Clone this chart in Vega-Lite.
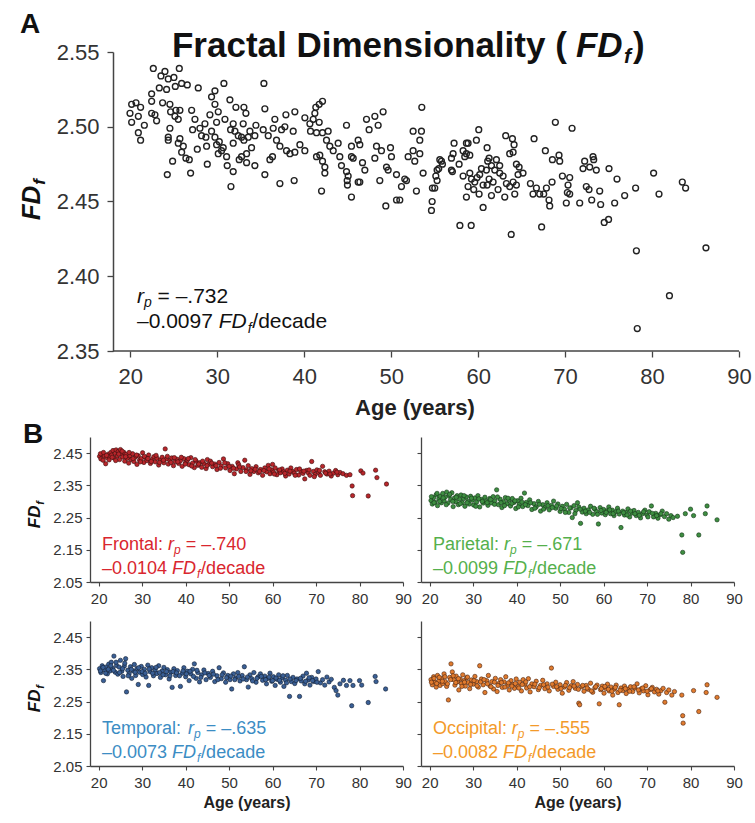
{
"$schema":"https://vega.github.io/schema/vega-lite/v6.json",
"padding":{"left":19,"top":11,"right":5,"bottom":5},
"config":{"view":{"stroke":null},"font":"Liberation Sans"},
"datasets":{
"a":[{"age":22.64,"fd":2.539},{"age":23.98,"fd":2.537},{"age":25.63,"fd":2.539},{"age":23.52,"fd":2.534},{"age":24.36,"fd":2.532},{"age":25.01,"fd":2.533},{"age":25.9,"fd":2.529},{"age":26.55,"fd":2.528},{"age":23.33,"fd":2.526},{"age":24.17,"fd":2.525},{"age":25.17,"fd":2.527},{"age":27.81,"fd":2.526},{"age":22.45,"fd":2.522},{"age":30.76,"fd":2.529},{"age":35.36,"fd":2.529},{"age":29.73,"fd":2.524},{"age":29.34,"fd":2.52},{"age":20.15,"fd":2.515},{"age":20.65,"fd":2.516},{"age":21.18,"fd":2.513},{"age":19.96,"fd":2.509},{"age":20.92,"fd":2.507},{"age":20.15,"fd":2.503},{"age":21.61,"fd":2.501},{"age":20.92,"fd":2.496},{"age":21.18,"fd":2.491},{"age":22.45,"fd":2.517},{"age":23.71,"fd":2.516},{"age":24.55,"fd":2.515},{"age":25.24,"fd":2.511},{"age":25.7,"fd":2.511},{"age":22.45,"fd":2.509},{"age":22.83,"fd":2.508},{"age":23.02,"fd":2.504},{"age":24.63,"fd":2.51},{"age":25.13,"fd":2.507},{"age":25.51,"fd":2.505},{"age":24.55,"fd":2.499},{"age":24.36,"fd":2.493},{"age":24.36,"fd":2.491},{"age":25.7,"fd":2.492},{"age":25.51,"fd":2.489},{"age":26.09,"fd":2.487},{"age":25.9,"fd":2.483},{"age":26.39,"fd":2.479},{"age":26.78,"fd":2.478},{"age":24.86,"fd":2.477},{"age":24.25,"fd":2.468},{"age":26.93,"fd":2.469},{"age":27.05,"fd":2.511},{"age":27.43,"fd":2.505},{"age":27.16,"fd":2.498},{"age":27.7,"fd":2.485},{"age":28.0,"fd":2.499},{"age":28.58,"fd":2.502},{"age":28.19,"fd":2.494},{"age":28.69,"fd":2.493},{"age":28.77,"fd":2.487},{"age":28.85,"fd":2.475},{"age":29.15,"fd":2.508},{"age":29.73,"fd":2.515},{"age":30.11,"fd":2.51},{"age":29.34,"fd":2.497},{"age":29.73,"fd":2.493},{"age":29.92,"fd":2.488},{"age":30.23,"fd":2.49},{"age":30.49,"fd":2.484},{"age":30.11,"fd":2.482},{"age":30.68,"fd":2.486},{"age":31.07,"fd":2.48},{"age":31.45,"fd":2.518},{"age":32.14,"fd":2.513},{"age":33.06,"fd":2.513},{"age":33.29,"fd":2.509},{"age":29.92,"fd":2.503},{"age":30.88,"fd":2.505},{"age":31.83,"fd":2.502},{"age":31.53,"fd":2.498},{"age":32.03,"fd":2.497},{"age":32.41,"fd":2.494},{"age":31.83,"fd":2.489},{"age":32.79,"fd":2.493},{"age":33.06,"fd":2.491},{"age":33.56,"fd":2.493},{"age":32.98,"fd":2.502},{"age":34.44,"fd":2.501},{"age":33.75,"fd":2.497},{"age":34.32,"fd":2.494},{"age":33.94,"fd":2.486},{"age":33.37,"fd":2.482},{"age":32.79,"fd":2.48},{"age":32.52,"fd":2.478},{"age":33.37,"fd":2.476},{"age":34.32,"fd":2.474},{"age":31.14,"fd":2.474},{"age":31.83,"fd":2.47},{"age":31.57,"fd":2.46},{"age":35.47,"fd":2.512},{"age":36.62,"fd":2.505},{"age":35.28,"fd":2.498},{"age":35.86,"fd":2.494},{"age":36.43,"fd":2.499},{"age":36.81,"fd":2.491},{"age":37.39,"fd":2.498},{"age":37.77,"fd":2.5},{"age":37.2,"fd":2.487},{"age":37.89,"fd":2.508},{"age":38.92,"fd":2.51},{"age":38.73,"fd":2.497},{"age":36.05,"fd":2.478},{"age":36.35,"fd":2.48},{"age":35.47,"fd":2.468},{"age":37.2,"fd":2.462},{"age":38.84,"fd":2.464},{"age":37.96,"fd":2.484},{"age":38.35,"fd":2.482},{"age":38.92,"fd":2.483},{"age":39.5,"fd":2.488},{"age":40.07,"fd":2.506},{"age":40.07,"fd":2.484},{"age":40.65,"fd":2.502},{"age":41.03,"fd":2.505},{"age":41.33,"fd":2.513},{"age":41.72,"fd":2.515},{"age":42.1,"fd":2.517},{"age":41.22,"fd":2.509},{"age":41.72,"fd":2.503},{"age":40.72,"fd":2.497},{"age":41.41,"fd":2.496},{"age":42.1,"fd":2.496},{"age":42.75,"fd":2.497},{"age":42.56,"fd":2.491},{"age":42.94,"fd":2.487},{"age":43.33,"fd":2.484},{"age":41.79,"fd":2.481},{"age":41.41,"fd":2.48},{"age":42.1,"fd":2.477},{"age":42.37,"fd":2.473},{"age":42.37,"fd":2.469},{"age":41.99,"fd":2.457},{"age":43.9,"fd":2.489},{"age":44.86,"fd":2.501},{"age":44.09,"fd":2.48},{"age":44.28,"fd":2.474},{"age":44.86,"fd":2.47},{"age":45.05,"fd":2.467},{"age":44.94,"fd":2.464},{"age":44.97,"fd":2.461},{"age":45.43,"fd":2.487},{"age":45.43,"fd":2.48},{"age":45.63,"fd":2.479},{"age":46.2,"fd":2.491},{"age":46.39,"fd":2.488},{"age":46.7,"fd":2.476},{"age":46.97,"fd":2.471},{"age":46.2,"fd":2.463},{"age":46.39,"fd":2.463},{"age":45.43,"fd":2.453},{"age":47.16,"fd":2.505},{"age":47.46,"fd":2.498},{"age":48.12,"fd":2.507},{"age":48.5,"fd":2.501},{"age":49.07,"fd":2.51},{"age":48.31,"fd":2.487},{"age":48.12,"fd":2.479},{"age":48.88,"fd":2.484},{"age":49.92,"fd":2.486},{"age":50.03,"fd":2.48},{"age":49.46,"fd":2.473},{"age":49.65,"fd":2.471},{"age":48.69,"fd":2.464},{"age":50.61,"fd":2.468},{"age":51.56,"fd":2.465},{"age":51.18,"fd":2.46},{"age":51.76,"fd":2.464},{"age":52.9,"fd":2.457},{"age":49.38,"fd":2.447},{"age":50.61,"fd":2.451},{"age":50.99,"fd":2.451},{"age":51.95,"fd":2.48},{"age":52.52,"fd":2.484},{"age":52.71,"fd":2.477},{"age":53.29,"fd":2.491},{"age":53.48,"fd":2.497},{"age":52.52,"fd":2.497},{"age":53.52,"fd":2.513},{"age":53.29,"fd":2.482},{"age":53.67,"fd":2.469},
{"age":68.88,"fd":2.503},{"age":70.8,"fd":2.499},{"age":60.07,"fd":2.498},{"age":66.43,"fd":2.492},{"age":63.17,"fd":2.494},{"age":63.94,"fd":2.492},{"age":64.13,"fd":2.488},{"age":63.63,"fd":2.482},{"age":64.02,"fd":2.483},{"age":61.03,"fd":2.486},{"age":59.8,"fd":2.491},{"age":58.65,"fd":2.489},{"age":58.84,"fd":2.489},{"age":57.23,"fd":2.489},{"age":67.73,"fd":2.484},{"age":69.3,"fd":2.481},{"age":68.54,"fd":2.478},{"age":69.38,"fd":2.477},{"age":72.25,"fd":2.477},{"age":73.21,"fd":2.48},{"age":73.29,"fd":2.478},{"age":72.06,"fd":2.472},{"age":72.83,"fd":2.473},{"age":73.59,"fd":2.471},{"age":75.05,"fd":2.472},{"age":75.97,"fd":2.465},{"age":80.18,"fd":2.469},{"age":83.48,"fd":2.463},{"age":83.86,"fd":2.459},{"age":78.11,"fd":2.459},{"age":80.8,"fd":2.455},{"age":76.85,"fd":2.454},{"age":75.7,"fd":2.449},{"age":74.09,"fd":2.448},{"age":71.68,"fd":2.449},{"age":70.14,"fd":2.449},{"age":68.23,"fd":2.447},{"age":68.15,"fd":2.451},{"age":67.08,"fd":2.455},{"age":67.54,"fd":2.455},{"age":66.31,"fd":2.455},{"age":66.01,"fd":2.462},{"age":66.7,"fd":2.459},{"age":67.85,"fd":2.459},{"age":68.5,"fd":2.463},{"age":70.34,"fd":2.461},{"age":70.26,"fd":2.456},{"age":70.53,"fd":2.455},{"age":69.69,"fd":2.467},{"age":70.53,"fd":2.466},{"age":72.44,"fd":2.46},{"age":72.75,"fd":2.458},{"age":73.98,"fd":2.457},{"age":73.06,"fd":2.451},{"age":55.78,"fd":2.477},{"age":55.47,"fd":2.472},{"age":55.13,"fd":2.467},{"age":55.28,"fd":2.464},{"age":54.74,"fd":2.459},{"age":55.01,"fd":2.459},{"age":54.71,"fd":2.45},{"age":54.63,"fd":2.444},{"age":56.93,"fd":2.471},{"age":57.04,"fd":2.47},{"age":57.81,"fd":2.475},{"age":58.27,"fd":2.484},{"age":58.65,"fd":2.482},{"age":59.04,"fd":2.481},{"age":58.46,"fd":2.48},{"age":56.93,"fd":2.479},{"age":57.12,"fd":2.482},{"age":58.27,"fd":2.467},{"age":59.04,"fd":2.469},{"age":59.23,"fd":2.465},{"age":58.84,"fd":2.46},{"age":58.65,"fd":2.453},{"age":59.49,"fd":2.458},{"age":60.11,"fd":2.455},{"age":59.61,"fd":2.463},{"age":60.18,"fd":2.468},{"age":60.57,"fd":2.446},{"age":60.95,"fd":2.471},{"age":61.26,"fd":2.465},{"age":61.72,"fd":2.463},{"age":61.53,"fd":2.454},{"age":62.1,"fd":2.478},{"age":62.48,"fd":2.474},{"age":62.48,"fd":2.469},{"age":62.87,"fd":2.467},{"age":63.25,"fd":2.462},{"age":63.06,"fd":2.453},{"age":62.29,"fd":2.458},{"age":63.63,"fd":2.46},{"age":64.21,"fd":2.455},{"age":64.02,"fd":2.463},{"age":64.4,"fd":2.461},{"age":64.59,"fd":2.468},{"age":65.16,"fd":2.469},{"age":64.71,"fd":2.473},{"age":64.4,"fd":2.475},{"age":61.1,"fd":2.477},{"age":61.26,"fd":2.479},{"age":61.53,"fd":2.474},{"age":61.91,"fd":2.471},{"age":61.03,"fd":2.461},{"age":60.57,"fd":2.461},{"age":59.88,"fd":2.466},{"age":60.38,"fd":2.472},{"age":55.59,"fd":2.478},{"age":55.89,"fd":2.475},{"age":55.28,"fd":2.471},
{"age":57.9,"fd":2.434},{"age":59.2,"fd":2.434},{"age":63.8,"fd":2.428},{"age":67.3,"fd":2.433},{"age":74.5,"fd":2.436},{"age":75.0,"fd":2.438},{"age":78.2,"fd":2.417},{"age":82.0,"fd":2.387},{"age":78.3,"fd":2.365},{"age":86.2,"fd":2.419}],
"fr":[{"age":20.2,"fd":2.44},{"age":20.5,"fd":2.432},{"age":20.8,"fd":2.445},{"age":21.0,"fd":2.428},{"age":21.3,"fd":2.441},{"age":21.6,"fd":2.417},{"age":21.9,"fd":2.436},{"age":22.2,"fd":2.447},{"age":22.5,"fd":2.439},{"age":22.8,"fd":2.452},{"age":23.0,"fd":2.444},{"age":23.3,"fd":2.458},{"age":23.5,"fd":2.435},{"age":23.8,"fd":2.449},{"age":24.0,"fd":2.46},{"age":24.3,"fd":2.441},{"age":24.5,"fd":2.455},{"age":24.8,"fd":2.43},{"age":25.0,"fd":2.461},{"age":25.2,"fd":2.447},{"age":25.5,"fd":2.438},{"age":25.8,"fd":2.452},{"age":26.0,"fd":2.425},{"age":26.3,"fd":2.446},{"age":26.6,"fd":2.434},{"age":26.9,"fd":2.419},{"age":27.2,"fd":2.441},{"age":27.5,"fd":2.43},{"age":27.8,"fd":2.448},{"age":28.1,"fd":2.424},{"age":28.4,"fd":2.437},{"age":28.8,"fd":2.415},{"age":29.1,"fd":2.442},{"age":29.4,"fd":2.428},{"age":29.8,"fd":2.433},{"age":30.1,"fd":2.451},{"age":30.4,"fd":2.421},{"age":30.8,"fd":2.436},{"age":31.1,"fd":2.427},{"age":31.5,"fd":2.444},{"age":31.9,"fd":2.418},{"age":32.3,"fd":2.431},{"age":32.7,"fd":2.439},{"age":33.0,"fd":2.423},{"age":33.4,"fd":2.434},{"age":33.8,"fd":2.413},{"age":34.2,"fd":2.429},{"age":34.6,"fd":2.437},{"age":35.0,"fd":2.42},{"age":35.3,"fd":2.463},{"age":35.6,"fd":2.432},{"age":36.0,"fd":2.416},{"age":36.4,"fd":2.427},{"age":36.8,"fd":2.435},{"age":37.2,"fd":2.411},{"age":37.6,"fd":2.424},{"age":38.0,"fd":2.431},{"age":38.4,"fd":2.418},{"age":38.8,"fd":2.426},{"age":39.2,"fd":2.409},{"age":39.6,"fd":2.433},{"age":40.0,"fd":2.421},{"age":40.4,"fd":2.428},{"age":40.8,"fd":2.414},{"age":41.2,"fd":2.436},{"age":41.6,"fd":2.419},{"age":42.0,"fd":2.405},{"age":42.4,"fd":2.425},{"age":42.8,"fd":2.412},{"age":43.2,"fd":2.42},{"age":43.7,"fd":2.406},{"age":44.2,"fd":2.418},{"age":44.7,"fd":2.402},{"age":45.0,"fd":2.43},{"age":45.2,"fd":2.415},{"age":45.7,"fd":2.425},{"age":46.2,"fd":2.408},{"age":46.7,"fd":2.416},{"age":47.2,"fd":2.399},{"age":47.7,"fd":2.421},{"age":48.2,"fd":2.41},{"age":48.7,"fd":2.432},{"age":49.2,"fd":2.404},{"age":49.7,"fd":2.417},{"age":50.2,"fd":2.396},{"age":50.7,"fd":2.409},{"age":51.2,"fd":2.386},{"age":51.7,"fd":2.401},{"age":52.0,"fd":2.42},{"age":52.2,"fd":2.414},{"age":52.7,"fd":2.393},{"age":53.2,"fd":2.405},{"age":53.6,"fd":2.428},{"age":54.0,"fd":2.398},{"age":54.4,"fd":2.411},{"age":54.8,"fd":2.384},{"age":55.2,"fd":2.402},{"age":55.7,"fd":2.393},{"age":56.2,"fd":2.408},{"age":56.7,"fd":2.389},{"age":57.2,"fd":2.399},{"age":57.7,"fd":2.381},{"age":58.2,"fd":2.404},{"age":58.6,"fd":2.392},{"age":59.0,"fd":2.412},{"age":59.4,"fd":2.386},{"age":59.8,"fd":2.398},{"age":60.0,"fd":2.415},{"age":60.2,"fd":2.391},{"age":60.6,"fd":2.404},{"age":61.0,"fd":2.383},{"age":61.4,"fd":2.396},{"age":61.8,"fd":2.389},{"age":62.2,"fd":2.401},{"age":62.6,"fd":2.392},{"age":63.0,"fd":2.379},{"age":63.4,"fd":2.397},{"age":63.8,"fd":2.385},{"age":64.2,"fd":2.404},{"age":64.6,"fd":2.393},{"age":65.0,"fd":2.388},{"age":65.5,"fd":2.399},{"age":66.0,"fd":2.382},{"age":66.5,"fd":2.394},{"age":67.0,"fd":2.387},{"age":67.4,"fd":2.37},{"age":67.8,"fd":2.396},{"age":68.2,"fd":2.389},{"age":68.6,"fd":2.381},{"age":69.0,"fd":2.424},{"age":69.4,"fd":2.393},{"age":69.8,"fd":2.384},{"age":70.2,"fd":2.398},{"age":70.6,"fd":2.39},{"age":71.0,"fd":2.381},{"age":71.5,"fd":2.409},{"age":72.0,"fd":2.392},{"age":72.5,"fd":2.385},{"age":73.0,"fd":2.394},{"age":73.5,"fd":2.379},{"age":74.0,"fd":2.388},{"age":74.5,"fd":2.396},{"age":75.0,"fd":2.383},{"age":75.5,"fd":2.39},{"age":76.2,"fd":2.386},{"age":77.0,"fd":2.381},{"age":77.8,"fd":2.383},{"age":78.3,"fd":2.348},{"age":78.4,"fd":2.318},{"age":80.3,"fd":2.395},{"age":80.8,"fd":2.388},{"age":82.0,"fd":2.317},{"age":83.7,"fd":2.397},{"age":84.0,"fd":2.374},{"age":86.2,"fd":2.354},
{"age":20.4,"fd":2.448},{"age":21.1,"fd":2.452},{"age":21.8,"fd":2.443},{"age":22.4,"fd":2.429},{"age":23.1,"fd":2.437},{"age":23.9,"fd":2.427},{"age":24.6,"fd":2.447},{"age":25.4,"fd":2.456},{"age":26.2,"fd":2.439},{"age":27.0,"fd":2.452},{"age":27.9,"fd":2.433},{"age":28.7,"fd":2.444},{"age":29.6,"fd":2.423},{"age":30.5,"fd":2.44},{"age":31.3,"fd":2.433},{"age":32.1,"fd":2.424},{"age":33.2,"fd":2.443},{"age":34.0,"fd":2.421},{"age":34.9,"fd":2.428},{"age":35.8,"fd":2.44},{"age":36.6,"fd":2.421},{"age":37.4,"fd":2.436},{"age":38.2,"fd":2.423},{"age":39.0,"fd":2.437},{"age":39.9,"fd":2.416},{"age":40.6,"fd":2.433},{"age":41.4,"fd":2.41},{"age":42.2,"fd":2.43},{"age":43.0,"fd":2.416},{"age":43.9,"fd":2.425},{"age":44.9,"fd":2.411},{"age":46.0,"fd":2.419},{"age":47.0,"fd":2.411},{"age":48.0,"fd":2.403},{"age":49.0,"fd":2.42},{"age":50.0,"fd":2.409},{"age":51.0,"fd":2.403},{"age":52.4,"fd":2.407},{"age":53.9,"fd":2.393},{"age":55.0,"fd":2.395},{"age":56.0,"fd":2.4},{"age":57.0,"fd":2.393},{"age":58.0,"fd":2.396},{"age":59.2,"fd":2.401},{"age":60.4,"fd":2.385},{"age":61.6,"fd":2.398},{"age":62.8,"fd":2.387},{"age":64.0,"fd":2.394},{"age":65.2,"fd":2.381},{"age":66.2,"fd":2.401},{"age":67.2,"fd":2.394},{"age":68.4,"fd":2.398},{"age":69.6,"fd":2.377},{"age":70.8,"fd":2.396},{"age":72.2,"fd":2.388},{"age":73.2,"fd":2.385},{"age":74.8,"fd":2.391}],
"pa":[{"age":20.3,"fd":2.303},{"age":20.6,"fd":2.292},{"age":20.9,"fd":2.312},{"age":21.2,"fd":2.298},{"age":21.5,"fd":2.321},{"age":21.8,"fd":2.287},{"age":22.1,"fd":2.308},{"age":22.4,"fd":2.316},{"age":22.7,"fd":2.296},{"age":23.0,"fd":2.325},{"age":23.3,"fd":2.302},{"age":23.6,"fd":2.314},{"age":23.9,"fd":2.329},{"age":24.2,"fd":2.295},{"age":24.5,"fd":2.318},{"age":24.8,"fd":2.306},{"age":25.1,"fd":2.327},{"age":25.4,"fd":2.284},{"age":25.7,"fd":2.311},{"age":26.0,"fd":2.299},{"age":26.3,"fd":2.318},{"age":26.6,"fd":2.29},{"age":26.9,"fd":2.307},{"age":27.2,"fd":2.32},{"age":27.5,"fd":2.296},{"age":27.8,"fd":2.309},{"age":28.1,"fd":2.285},{"age":28.4,"fd":2.314},{"age":28.8,"fd":2.301},{"age":29.1,"fd":2.292},{"age":29.4,"fd":2.316},{"age":29.8,"fd":2.304},{"age":30.1,"fd":2.289},{"age":30.4,"fd":2.311},{"age":30.8,"fd":2.298},{"age":31.1,"fd":2.318},{"age":31.5,"fd":2.283},{"age":31.9,"fd":2.306},{"age":32.3,"fd":2.295},{"age":32.7,"fd":2.313},{"age":33.0,"fd":2.301},{"age":33.4,"fd":2.288},{"age":33.8,"fd":2.309},{"age":34.2,"fd":2.296},{"age":34.6,"fd":2.315},{"age":35.0,"fd":2.302},{"age":35.4,"fd":2.336},{"age":35.8,"fd":2.29},{"age":36.2,"fd":2.307},{"age":36.6,"fd":2.281},{"age":37.0,"fd":2.299},{"age":37.4,"fd":2.312},{"age":37.8,"fd":2.293},{"age":38.2,"fd":2.304},{"age":38.6,"fd":2.286},{"age":39.0,"fd":2.309},{"age":39.4,"fd":2.297},{"age":39.8,"fd":2.278},{"age":40.2,"fd":2.302},{"age":40.6,"fd":2.291},{"age":41.0,"fd":2.31},{"age":41.4,"fd":2.284},{"age":41.8,"fd":2.326},{"age":42.2,"fd":2.297},{"age":42.6,"fd":2.287},{"age":43.0,"fd":2.305},{"age":43.5,"fd":2.275},{"age":44.0,"fd":2.293},{"age":44.5,"fd":2.283},{"age":45.0,"fd":2.3},{"age":45.5,"fd":2.27},{"age":46.0,"fd":2.29},{"age":46.5,"fd":2.281},{"age":47.0,"fd":2.296},{"age":47.5,"fd":2.274},{"age":48.0,"fd":2.288},{"age":48.5,"fd":2.301},{"age":49.0,"fd":2.279},{"age":49.5,"fd":2.292},{"age":50.0,"fd":2.269},{"age":50.5,"fd":2.285},{"age":51.0,"fd":2.276},{"age":51.5,"fd":2.291},{"age":52.0,"fd":2.266},{"age":52.5,"fd":2.28},{"age":52.8,"fd":2.25},{"age":53.2,"fd":2.287},{"age":53.6,"fd":2.272},{"age":54.0,"fd":2.296},{"age":54.3,"fd":2.283},{"age":54.7,"fd":2.232},{"age":55.1,"fd":2.267},{"age":55.5,"fd":2.279},{"age":56.0,"fd":2.262},{"age":56.5,"fd":2.274},{"age":57.0,"fd":2.285},{"age":57.5,"fd":2.26},{"age":58.0,"fd":2.276},{"age":58.4,"fd":2.268},{"age":58.8,"fd":2.23},{"age":59.2,"fd":2.281},{"age":59.6,"fd":2.264},{"age":60.0,"fd":2.275},{"age":60.4,"fd":2.259},{"age":60.8,"fd":2.271},{"age":61.2,"fd":2.283},{"age":61.6,"fd":2.262},{"age":62.0,"fd":2.273},{"age":62.4,"fd":2.256},{"age":62.8,"fd":2.268},{"age":63.2,"fd":2.279},{"age":63.6,"fd":2.261},{"age":64.0,"fd":2.219},{"age":64.4,"fd":2.27},{"age":64.8,"fd":2.258},{"age":65.2,"fd":2.266},{"age":65.6,"fd":2.277},{"age":66.0,"fd":2.252},{"age":66.5,"fd":2.264},{"age":67.0,"fd":2.272},{"age":67.5,"fd":2.256},{"age":68.0,"fd":2.266},{"age":68.5,"fd":2.249},{"age":69.0,"fd":2.262},{"age":69.5,"fd":2.273},{"age":70.0,"fd":2.258},{"age":70.5,"fd":2.268},{"age":71.0,"fd":2.286},{"age":71.5,"fd":2.252},{"age":72.0,"fd":2.263},{"age":72.5,"fd":2.248},{"age":73.0,"fd":2.259},{"age":73.5,"fd":2.27},{"age":74.0,"fd":2.253},{"age":74.5,"fd":2.262},{"age":75.0,"fd":2.245},{"age":75.5,"fd":2.256},{"age":76.0,"fd":2.25},{"age":77.0,"fd":2.254},{"age":78.0,"fd":2.196},{"age":78.2,"fd":2.142},{"age":78.8,"fd":2.262},{"age":80.0,"fd":2.276},{"age":80.7,"fd":2.256},{"age":81.9,"fd":2.196},{"age":83.4,"fd":2.262},{"age":83.8,"fd":2.286},{"age":86.1,"fd":2.243},
{"age":20.4,"fd":2.315},{"age":21.0,"fd":2.296},{"age":21.7,"fd":2.325},{"age":22.3,"fd":2.3},{"age":23.1,"fd":2.311},{"age":23.8,"fd":2.29},{"age":24.6,"fd":2.322},{"age":25.3,"fd":2.3},{"age":26.1,"fd":2.313},{"age":27.0,"fd":2.293},{"age":27.9,"fd":2.318},{"age":28.6,"fd":2.296},{"age":29.6,"fd":2.31},{"age":30.6,"fd":2.285},{"age":31.3,"fd":2.308},{"age":32.1,"fd":2.3},{"age":33.2,"fd":2.296},{"age":34.0,"fd":2.306},{"age":34.9,"fd":2.291},{"age":35.6,"fd":2.314},{"age":36.4,"fd":2.296},{"age":37.2,"fd":2.287},{"age":38.0,"fd":2.31},{"age":38.9,"fd":2.294},{"age":39.6,"fd":2.302},{"age":40.4,"fd":2.283},{"age":41.2,"fd":2.298},{"age":42.0,"fd":2.29},{"age":43.2,"fd":2.296},{"age":44.2,"fd":2.279},{"age":45.2,"fd":2.291},{"age":46.2,"fd":2.276},{"age":47.2,"fd":2.287},{"age":48.2,"fd":2.281},{"age":49.2,"fd":2.286},{"age":50.2,"fd":2.278},{"age":51.2,"fd":2.266},{"age":52.2,"fd":2.28},{"age":53.4,"fd":2.262},{"age":54.6,"fd":2.276},{"age":55.8,"fd":2.27},{"age":56.8,"fd":2.266},{"age":57.8,"fd":2.279},{"age":58.6,"fd":2.26},{"age":59.4,"fd":2.272},{"age":60.6,"fd":2.266},{"age":61.4,"fd":2.274},{"age":62.2,"fd":2.262},{"age":63.4,"fd":2.27},{"age":64.6,"fd":2.265},{"age":65.4,"fd":2.258},{"age":66.2,"fd":2.27},{"age":67.2,"fd":2.262},{"age":68.2,"fd":2.257},{"age":69.2,"fd":2.268},{"age":70.2,"fd":2.252},{"age":71.2,"fd":2.263},{"age":72.2,"fd":2.256},{"age":73.2,"fd":2.262}],
"te":[{"age":20.2,"fd":2.352},{"age":20.5,"fd":2.34},{"age":20.8,"fd":2.361},{"age":21.1,"fd":2.315},{"age":21.4,"fd":2.348},{"age":21.7,"fd":2.357},{"age":22.0,"fd":2.336},{"age":22.3,"fd":2.366},{"age":22.6,"fd":2.345},{"age":22.9,"fd":2.372},{"age":23.2,"fd":2.353},{"age":23.5,"fd":2.391},{"age":23.8,"fd":2.341},{"age":24.1,"fd":2.362},{"age":24.4,"fd":2.335},{"age":24.7,"fd":2.357},{"age":25.0,"fd":2.378},{"age":25.3,"fd":2.344},{"age":25.6,"fd":2.328},{"age":25.9,"fd":2.36},{"age":26.2,"fd":2.383},{"age":26.4,"fd":2.28},{"age":26.7,"fd":2.347},{"age":27.0,"fd":2.336},{"age":27.3,"fd":2.358},{"age":27.6,"fd":2.322},{"age":27.9,"fd":2.345},{"age":28.2,"fd":2.365},{"age":28.5,"fd":2.331},{"age":28.8,"fd":2.352},{"age":29.1,"fd":2.303},{"age":29.4,"fd":2.341},{"age":29.8,"fd":2.359},{"age":30.1,"fd":2.334},{"age":30.5,"fd":2.35},{"age":30.9,"fd":2.326},{"age":31.3,"fd":2.363},{"age":31.5,"fd":2.3},{"age":31.8,"fd":2.343},{"age":32.2,"fd":2.355},{"age":32.6,"fd":2.33},{"age":33.0,"fd":2.348},{"age":33.4,"fd":2.337},{"age":33.8,"fd":2.361},{"age":34.2,"fd":2.325},{"age":34.6,"fd":2.345},{"age":35.0,"fd":2.356},{"age":35.4,"fd":2.333},{"age":35.8,"fd":2.349},{"age":36.2,"fd":2.32},{"age":36.6,"fd":2.341},{"age":36.9,"fd":2.294},{"age":37.3,"fd":2.352},{"age":37.7,"fd":2.331},{"age":38.1,"fd":2.346},{"age":38.8,"fd":2.297},{"age":39.2,"fd":2.338},{"age":39.6,"fd":2.355},{"age":40.0,"fd":2.327},{"age":40.4,"fd":2.344},{"age":40.8,"fd":2.315},{"age":41.2,"fd":2.336},{"age":41.6,"fd":2.35},{"age":42.0,"fd":2.367},{"age":42.4,"fd":2.322},{"age":42.8,"fd":2.34},{"age":43.2,"fd":2.311},{"age":43.7,"fd":2.333},{"age":44.2,"fd":2.348},{"age":44.7,"fd":2.318},{"age":45.2,"fd":2.337},{"age":45.7,"fd":2.325},{"age":46.2,"fd":2.344},{"age":46.7,"fd":2.312},{"age":47.2,"fd":2.33},{"age":47.7,"fd":2.355},{"age":48.2,"fd":2.321},{"age":48.7,"fd":2.339},{"age":49.2,"fd":2.31},{"age":49.7,"fd":2.331},{"age":50.2,"fd":2.318},{"age":50.6,"fd":2.289},{"age":51.0,"fd":2.336},{"age":51.5,"fd":2.323},{"age":52.0,"fd":2.34},{"age":52.5,"fd":2.314},{"age":53.0,"fd":2.331},{"age":53.5,"fd":2.358},{"age":54.0,"fd":2.318},{"age":54.4,"fd":2.295},{"age":54.8,"fd":2.333},{"age":55.2,"fd":2.321},{"age":55.7,"fd":2.34},{"age":56.2,"fd":2.31},{"age":56.7,"fd":2.327},{"age":57.2,"fd":2.336},{"age":57.7,"fd":2.316},{"age":58.2,"fd":2.329},{"age":58.6,"fd":2.305},{"age":59.0,"fd":2.322},{"age":59.4,"fd":2.338},{"age":59.8,"fd":2.313},{"age":60.2,"fd":2.327},{"age":60.6,"fd":2.3},{"age":61.0,"fd":2.319},{"age":61.4,"fd":2.333},{"age":61.8,"fd":2.31},{"age":62.2,"fd":2.324},{"age":62.6,"fd":2.297},{"age":63.0,"fd":2.316},{"age":63.4,"fd":2.331},{"age":63.9,"fd":2.266},{"age":64.3,"fd":2.312},{"age":64.7,"fd":2.325},{"age":65.1,"fd":2.306},{"age":65.6,"fd":2.32},{"age":66.2,"fd":2.266},{"age":66.6,"fd":2.314},{"age":67.0,"fd":2.329},{"age":67.4,"fd":2.305},{"age":67.8,"fd":2.338},{"age":68.2,"fd":2.317},{"age":68.6,"fd":2.301},{"age":69.0,"fd":2.325},{"age":69.5,"fd":2.312},{"age":70.0,"fd":2.32},{"age":70.5,"fd":2.343},{"age":71.0,"fd":2.308},{"age":71.5,"fd":2.318},{"age":72.0,"fd":2.301},{"age":72.5,"fd":2.326},{"age":73.0,"fd":2.311},{"age":73.5,"fd":2.319},{"age":74.2,"fd":2.294},{"age":74.6,"fd":2.284},{"age":75.0,"fd":2.27},{"age":75.5,"fd":2.305},{"age":76.3,"fd":2.316},{"age":77.0,"fd":2.3},{"age":77.8,"fd":2.315},{"age":78.2,"fd":2.237},{"age":78.5,"fd":2.3},{"age":80.0,"fd":2.315},{"age":80.5,"fd":2.301},{"age":82.0,"fd":2.247},{"age":83.6,"fd":2.328},{"age":83.8,"fd":2.312},{"age":86.0,"fd":2.289},
{"age":20.4,"fd":2.345},{"age":21.0,"fd":2.356},{"age":21.6,"fd":2.338},{"age":22.2,"fd":2.35},{"age":22.8,"fd":2.361},{"age":23.4,"fd":2.347},{"age":24.0,"fd":2.372},{"age":24.8,"fd":2.34},{"age":25.5,"fd":2.352},{"age":26.0,"fd":2.369},{"age":26.8,"fd":2.33},{"age":27.5,"fd":2.35},{"age":28.4,"fd":2.341},{"age":29.2,"fd":2.355},{"age":30.0,"fd":2.343},{"age":30.7,"fd":2.338},{"age":31.6,"fd":2.351},{"age":32.4,"fd":2.338},{"age":33.2,"fd":2.356},{"age":34.0,"fd":2.34},{"age":34.8,"fd":2.333},{"age":35.6,"fd":2.343},{"age":36.4,"fd":2.33},{"age":37.1,"fd":2.343},{"age":37.9,"fd":2.339},{"age":38.6,"fd":2.33},{"age":39.4,"fd":2.345},{"age":40.2,"fd":2.336},{"age":41.0,"fd":2.344},{"age":41.8,"fd":2.328},{"age":42.6,"fd":2.347},{"age":43.5,"fd":2.325},{"age":44.4,"fd":2.339},{"age":45.4,"fd":2.331},{"age":46.4,"fd":2.335},{"age":47.4,"fd":2.318},{"age":48.4,"fd":2.333},{"age":49.4,"fd":2.324},{"age":50.4,"fd":2.329},{"age":51.3,"fd":2.318},{"age":52.2,"fd":2.328},{"age":53.2,"fd":2.32},{"age":54.2,"fd":2.326},{"age":55.4,"fd":2.314},{"age":56.4,"fd":2.322},{"age":57.4,"fd":2.328},{"age":58.4,"fd":2.318},{"age":59.2,"fd":2.326},{"age":60.0,"fd":2.315},{"age":60.8,"fd":2.323},{"age":61.6,"fd":2.316},{"age":62.4,"fd":2.33},{"age":63.2,"fd":2.308},{"age":64.0,"fd":2.32},{"age":65.4,"fd":2.315},{"age":66.4,"fd":2.322},{"age":67.6,"fd":2.313},{"age":68.4,"fd":2.324},{"age":69.2,"fd":2.315},{"age":70.2,"fd":2.31}],
"oc":[{"age":20.3,"fd":2.318},{"age":20.6,"fd":2.302},{"age":20.9,"fd":2.327},{"age":21.2,"fd":2.31},{"age":21.5,"fd":2.295},{"age":21.8,"fd":2.331},{"age":22.1,"fd":2.314},{"age":22.4,"fd":2.3},{"age":22.7,"fd":2.322},{"age":23.0,"fd":2.306},{"age":23.3,"fd":2.336},{"age":23.6,"fd":2.312},{"age":23.9,"fd":2.297},{"age":24.3,"fd":2.255},{"age":24.6,"fd":2.325},{"age":24.9,"fd":2.367},{"age":25.2,"fd":2.342},{"age":25.5,"fd":2.318},{"age":25.8,"fd":2.301},{"age":26.1,"fd":2.329},{"age":26.4,"fd":2.311},{"age":26.7,"fd":2.286},{"age":27.0,"fd":2.32},{"age":27.3,"fd":2.306},{"age":27.6,"fd":2.333},{"age":27.9,"fd":2.315},{"age":28.2,"fd":2.298},{"age":28.5,"fd":2.324},{"age":28.9,"fd":2.309},{"age":29.2,"fd":2.29},{"age":29.6,"fd":2.317},{"age":30.0,"fd":2.304},{"age":30.4,"fd":2.328},{"age":30.8,"fd":2.312},{"age":31.2,"fd":2.295},{"age":31.5,"fd":2.361},{"age":31.9,"fd":2.32},{"age":32.3,"fd":2.302},{"age":32.7,"fd":2.278},{"age":33.1,"fd":2.315},{"age":33.5,"fd":2.331},{"age":33.9,"fd":2.298},{"age":34.3,"fd":2.312},{"age":34.7,"fd":2.289},{"age":35.1,"fd":2.322},{"age":35.5,"fd":2.281},{"age":35.9,"fd":2.306},{"age":36.3,"fd":2.318},{"age":36.7,"fd":2.294},{"age":37.1,"fd":2.311},{"age":37.5,"fd":2.327},{"age":37.9,"fd":2.3},{"age":38.3,"fd":2.286},{"age":38.7,"fd":2.315},{"age":39.1,"fd":2.303},{"age":39.5,"fd":2.291},{"age":39.9,"fd":2.32},{"age":40.3,"fd":2.297},{"age":40.7,"fd":2.31},{"age":41.1,"fd":2.283},{"age":41.5,"fd":2.318},{"age":41.9,"fd":2.304},{"age":42.3,"fd":2.292},{"age":42.7,"fd":2.321},{"age":43.1,"fd":2.28},{"age":43.5,"fd":2.305},{"age":44.0,"fd":2.296},{"age":44.5,"fd":2.313},{"age":45.0,"fd":2.287},{"age":45.5,"fd":2.3},{"age":46.0,"fd":2.316},{"age":46.5,"fd":2.29},{"age":47.0,"fd":2.305},{"age":47.5,"fd":2.283},{"age":48.0,"fd":2.354},{"age":48.5,"fd":2.297},{"age":49.0,"fd":2.31},{"age":49.5,"fd":2.288},{"age":50.0,"fd":2.302},{"age":50.5,"fd":2.276},{"age":51.0,"fd":2.295},{"age":51.5,"fd":2.309},{"age":52.0,"fd":2.285},{"age":52.5,"fd":2.299},{"age":53.0,"fd":2.312},{"age":53.5,"fd":2.291},{"age":54.0,"fd":2.303},{"age":54.3,"fd":2.245},{"age":54.5,"fd":2.24},{"age":55.0,"fd":2.296},{"age":55.5,"fd":2.282},{"age":56.0,"fd":2.3},{"age":56.5,"fd":2.288},{"age":57.0,"fd":2.307},{"age":57.5,"fd":2.279},{"age":58.0,"fd":2.293},{"age":58.5,"fd":2.301},{"age":59.0,"fd":2.243},{"age":59.3,"fd":2.287},{"age":59.7,"fd":2.298},{"age":60.1,"fd":2.276},{"age":60.5,"fd":2.291},{"age":60.9,"fd":2.304},{"age":61.3,"fd":2.283},{"age":61.7,"fd":2.295},{"age":62.1,"fd":2.27},{"age":62.5,"fd":2.289},{"age":62.9,"fd":2.301},{"age":63.3,"fd":2.278},{"age":63.6,"fd":2.24},{"age":64.0,"fd":2.292},{"age":64.4,"fd":2.284},{"age":64.8,"fd":2.298},{"age":65.2,"fd":2.275},{"age":65.7,"fd":2.289},{"age":66.2,"fd":2.296},{"age":66.7,"fd":2.281},{"age":67.2,"fd":2.292},{"age":67.7,"fd":2.305},{"age":68.2,"fd":2.277},{"age":68.7,"fd":2.29},{"age":69.2,"fd":2.283},{"age":69.7,"fd":2.299},{"age":70.2,"fd":2.271},{"age":70.7,"fd":2.287},{"age":71.2,"fd":2.294},{"age":71.7,"fd":2.28},{"age":72.2,"fd":2.288},{"age":72.7,"fd":2.273},{"age":73.2,"fd":2.284},{"age":73.7,"fd":2.291},{"age":74.1,"fd":2.248},{"age":74.5,"fd":2.278},{"age":75.0,"fd":2.286},{"age":75.7,"fd":2.27},{"age":76.3,"fd":2.281},{"age":78.0,"fd":2.27},{"age":78.2,"fd":2.206},{"age":78.3,"fd":2.183},{"age":80.7,"fd":2.284},{"age":81.9,"fd":2.219},{"age":83.6,"fd":2.278},{"age":83.8,"fd":2.302},{"age":86.1,"fd":2.263},
{"age":20.4,"fd":2.31},{"age":21.0,"fd":2.322},{"age":21.6,"fd":2.306},{"age":22.2,"fd":2.325},{"age":22.9,"fd":2.313},{"age":23.5,"fd":2.327},{"age":24.1,"fd":2.305},{"age":24.8,"fd":2.318},{"age":25.4,"fd":2.33},{"age":26.0,"fd":2.309},{"age":26.6,"fd":2.321},{"age":27.4,"fd":2.297},{"age":28.0,"fd":2.31},{"age":28.7,"fd":2.326},{"age":29.4,"fd":2.303},{"age":30.2,"fd":2.315},{"age":30.9,"fd":2.299},{"age":31.7,"fd":2.311},{"age":32.5,"fd":2.318},{"age":33.3,"fd":2.305},{"age":34.1,"fd":2.296},{"age":34.9,"fd":2.31},{"age":35.7,"fd":2.3},{"age":36.5,"fd":2.309},{"age":37.3,"fd":2.295},{"age":38.1,"fd":2.308},{"age":38.9,"fd":2.298},{"age":39.7,"fd":2.306},{"age":40.5,"fd":2.292},{"age":41.3,"fd":2.303},{"age":42.1,"fd":2.311},{"age":43.0,"fd":2.296},{"age":44.2,"fd":2.304},{"age":45.2,"fd":2.293},{"age":46.2,"fd":2.302},{"age":47.2,"fd":2.295},{"age":48.2,"fd":2.304},{"age":49.2,"fd":2.296},{"age":50.2,"fd":2.29},{"age":51.2,"fd":2.3},{"age":52.2,"fd":2.293},{"age":53.2,"fd":2.298},{"age":54.2,"fd":2.288},{"age":55.2,"fd":2.3},{"age":56.2,"fd":2.292},{"age":57.2,"fd":2.283},{"age":58.2,"fd":2.296},{"age":59.5,"fd":2.29},{"age":60.3,"fd":2.297},{"age":61.1,"fd":2.288},{"age":61.9,"fd":2.282},{"age":62.7,"fd":2.294},{"age":63.8,"fd":2.285},{"age":65.0,"fd":2.29},{"age":66.0,"fd":2.282},{"age":67.0,"fd":2.296},{"age":68.0,"fd":2.286},{"age":69.0,"fd":2.292},{"age":70.0,"fd":2.282},{"age":71.0,"fd":2.29},{"age":72.5,"fd":2.283}]
},
"spacing":2,
"vconcat":[
{"width":649,"height":299,
"layer":[
{"data":{"name":"a"},"mark":{"type":"point","shape":"circle","filled":false,"stroke":"#222","strokeWidth":1.4,"size":34,"opacity":1},
"encoding":{"x":{"field":"age","type":"quantitative","scale":{"domain":[15.36,90],"nice":false,"zero":false},"axis":{"values":[20,30,40,50,60,70,80,90],"tickCount":20,"domain":false,"grid":false,"tickSize":6,"tickWidth":1.3,"tickColor":"#444","labelFontSize":22,"labelColor":"#333","labelPadding":9,"labelFlush":false,"labelOverlap":false,"title":"Age (years)","titleFontSize":22,"titleFontWeight":"bold","titleColor":"#222","titlePadding":10}},
"y":{"field":"fd","type":"quantitative","scale":{"domain":[2.35,2.55],"nice":false,"zero":false},"axis":{"values":[2.35,2.4,2.45,2.5,2.55],"tickCount":20,"format":".2f","offset":-23,"grid":false,"domainColor":"#444","domainWidth":1.5,"tickSize":6,"tickWidth":1.3,"tickColor":"#444","labelFontSize":22,"labelColor":"#333","labelPadding":8,"labelFlush":false,"labelOverlap":false,"title":null}}}},
{"data":{"values":[{}]},"mark":{"type":"rule","color":"#444","strokeWidth":1.5},"encoding":{"x":{"datum":18,"type":"quantitative","scale":{"domain":[15.36,90],"nice":false,"zero":false}},"x2":{"datum":90},"y":{"datum":2.35,"type":"quantitative","scale":{"domain":[2.35,2.55],"nice":false,"zero":false}}}},
{"data":{"values":[{}]},"mark":{"type":"text","text":"A","align":"left","baseline":"alphabetic","fontSize":28,"fontWeight":"bold","color":"#111"},"encoding":{"x":{"datum":7.3,"type":"quantitative","scale":{"domain":[15.36,90],"nice":false,"zero":false}},"y":{"datum":2.5627,"type":"quantitative","scale":{"domain":[2.35,2.55],"nice":false,"zero":false}}}},
{"data":{"values":[{}]},"mark":{"type":"text","text":"Fractal Dimensionality (","align":"left","baseline":"alphabetic","fontSize":35,"fontWeight":"bold","color":"#111"},"encoding":{"x":{"datum":24.79,"type":"quantitative","scale":{"domain":[15.36,90],"nice":false,"zero":false}},"y":{"datum":2.5467,"type":"quantitative","scale":{"domain":[2.35,2.55],"nice":false,"zero":false}}}},
{"data":{"values":[{}]},"mark":{"type":"text","text":"FD","align":"left","baseline":"alphabetic","fontSize":35,"fontWeight":"bold","fontStyle":"italic","color":"#111"},"encoding":{"x":{"datum":71.25,"type":"quantitative","scale":{"domain":[15.36,90],"nice":false,"zero":false}},"y":{"datum":2.5467,"type":"quantitative","scale":{"domain":[2.35,2.55],"nice":false,"zero":false}}}},
{"data":{"values":[{}]},"mark":{"type":"text","text":"f","align":"left","baseline":"alphabetic","fontSize":21,"fontWeight":"bold","fontStyle":"italic","color":"#111"},"encoding":{"x":{"datum":76.77,"type":"quantitative","scale":{"domain":[15.36,90],"nice":false,"zero":false}},"y":{"datum":2.5426,"type":"quantitative","scale":{"domain":[2.35,2.55],"nice":false,"zero":false}}}},
{"data":{"values":[{}]},"mark":{"type":"text","text":")","align":"left","baseline":"alphabetic","fontSize":35,"fontWeight":"bold","color":"#111"},"encoding":{"x":{"datum":77.81,"type":"quantitative","scale":{"domain":[15.36,90],"nice":false,"zero":false}},"y":{"datum":2.5467,"type":"quantitative","scale":{"domain":[2.35,2.55],"nice":false,"zero":false}}}},
{"data":{"values":[{}]},"mark":{"type":"text","text":"FD","align":"center","baseline":"alphabetic","angle":270,"fontSize":26,"fontWeight":"bold","fontStyle":"italic","color":"#111"},"encoding":{"x":{"datum":9.61,"type":"quantitative","scale":{"domain":[15.36,90],"nice":false,"zero":false}},"y":{"datum":2.449,"type":"quantitative","scale":{"domain":[2.35,2.55],"nice":false,"zero":false}}}},
{"data":{"values":[{}]},"mark":{"type":"text","text":"f","align":"left","baseline":"alphabetic","angle":270,"fontSize":17,"fontWeight":"bold","fontStyle":"italic","color":"#111"},"encoding":{"x":{"datum":10.18,"type":"quantitative","scale":{"domain":[15.36,90],"nice":false,"zero":false}},"y":{"datum":2.4612,"type":"quantitative","scale":{"domain":[2.35,2.55],"nice":false,"zero":false}}}},
{"data":{"values":[{}]},"mark":{"type":"text","text":"r","align":"left","baseline":"alphabetic","fontSize":21,"fontStyle":"italic","color":"#111"},"encoding":{"x":{"datum":20.76,"type":"quantitative","scale":{"domain":[15.36,90],"nice":false,"zero":false}},"y":{"datum":2.3818,"type":"quantitative","scale":{"domain":[2.35,2.55],"nice":false,"zero":false}}}},
{"data":{"values":[{}]},"mark":{"type":"text","text":"p","align":"left","baseline":"alphabetic","fontSize":14,"fontStyle":"italic","color":"#111"},"encoding":{"x":{"datum":21.56,"type":"quantitative","scale":{"domain":[15.36,90],"nice":false,"zero":false}},"y":{"datum":2.3797,"type":"quantitative","scale":{"domain":[2.35,2.55],"nice":false,"zero":false}}}},
{"data":{"values":[{}]},"mark":{"type":"text","text":"= –.732","align":"left","baseline":"alphabetic","fontSize":21,"color":"#111"},"encoding":{"x":{"datum":23.13,"type":"quantitative","scale":{"domain":[15.36,90],"nice":false,"zero":false}},"y":{"datum":2.3818,"type":"quantitative","scale":{"domain":[2.35,2.55],"nice":false,"zero":false}}}},
{"data":{"values":[{}]},"mark":{"type":"text","text":"–0.0097","align":"left","baseline":"alphabetic","fontSize":21,"color":"#111"},"encoding":{"x":{"datum":20.76,"type":"quantitative","scale":{"domain":[15.36,90],"nice":false,"zero":false}},"y":{"datum":2.3654,"type":"quantitative","scale":{"domain":[2.35,2.55],"nice":false,"zero":false}}}},
{"data":{"values":[{}]},"mark":{"type":"text","text":"FD","align":"left","baseline":"alphabetic","fontSize":21,"fontStyle":"italic","color":"#111"},"encoding":{"x":{"datum":30.16,"type":"quantitative","scale":{"domain":[15.36,90],"nice":false,"zero":false}},"y":{"datum":2.3654,"type":"quantitative","scale":{"domain":[2.35,2.55],"nice":false,"zero":false}}}},
{"data":{"values":[{}]},"mark":{"type":"text","text":"f","align":"left","baseline":"alphabetic","fontSize":14,"fontStyle":"italic","color":"#111"},"encoding":{"x":{"datum":33.49,"type":"quantitative","scale":{"domain":[15.36,90],"nice":false,"zero":false}},"y":{"datum":2.362,"type":"quantitative","scale":{"domain":[2.35,2.55],"nice":false,"zero":false}}}},
{"data":{"values":[{}]},"mark":{"type":"text","text":"/decade","align":"left","baseline":"alphabetic","fontSize":21,"color":"#111"},"encoding":{"x":{"datum":34.03,"type":"quantitative","scale":{"domain":[15.36,90],"nice":false,"zero":false}},"y":{"datum":2.3654,"type":"quantitative","scale":{"domain":[2.35,2.55],"nice":false,"zero":false}}}}
]},
{"spacing":15,"vconcat":[
{"spacing":4,"hconcat":[
{"width":313,"height":145,"layer":[
{"data":{"name":"fr"},"mark":{"type":"circle","size":19,"fill":"#b8262b","stroke":"#3b0d0d","strokeWidth":0.6,"opacity":1},"encoding":{"x":{"field":"age","type":"quantitative","scale":{"domain":[18,90],"nice":false,"zero":false},"axis":{"values":[20,30,40,50,60,70,80,90],"tickCount":20,"grid":false,"domainColor":"#444","domainWidth":1.3,"tickColor":"#444","tickSize":4,"tickWidth":1.1,"labelFontSize":15,"labelColor":"#333","labelPadding":5,"labelFlush":false,"labelOverlap":false,"title":null}},"y":{"field":"fd","type":"quantitative","scale":{"domain":[2.05,2.5],"nice":false,"zero":false},"axis":{"values":[2.05,2.15,2.25,2.35,2.45],"tickCount":20,"format":".2f","grid":false,"domainColor":"#444","domainWidth":1.3,"tickColor":"#444","tickSize":4,"tickWidth":1.1,"labelFontSize":15,"labelColor":"#333","labelPadding":4,"labelFlush":false,"labelOverlap":false,"title":null}}}},
{"data":{"values":[{}]},"mark":{"type":"text","text":"B","align":"left","baseline":"alphabetic","fontSize":28,"fontWeight":"bold","color":"#111"},"encoding":{"x":{"datum":2.59,"type":"quantitative","scale":{"domain":[18,90],"nice":false,"zero":false}},"y":{"datum":2.4814,"type":"quantitative","scale":{"domain":[2.05,2.5],"nice":false,"zero":false}}}},
{"data":{"values":[{}]},"mark":{"type":"text","text":"FD","align":"center","baseline":"alphabetic","angle":270,"fontSize":17,"fontWeight":"bold","fontStyle":"italic","color":"#111"},"encoding":{"x":{"datum":6.5,"type":"quantitative","scale":{"domain":[18,90],"nice":false,"zero":false}},"y":{"datum":2.252,"type":"quantitative","scale":{"domain":[2.05,2.5],"nice":false,"zero":false}}}},
{"data":{"values":[{}]},"mark":{"type":"text","text":"f","align":"left","baseline":"alphabetic","angle":270,"fontSize":11,"fontWeight":"bold","fontStyle":"italic","color":"#111"},"encoding":{"x":{"datum":7.42,"type":"quantitative","scale":{"domain":[18,90],"nice":false,"zero":false}},"y":{"datum":2.29,"type":"quantitative","scale":{"domain":[2.05,2.5],"nice":false,"zero":false}}}},
{"data":{"values":[{}]},"mark":{"type":"text","text":"Frontal:","align":"left","baseline":"alphabetic","fontSize":18,"color":"#d9262e"},"encoding":{"x":{"datum":20.76,"type":"quantitative","scale":{"domain":[18,90],"nice":false,"zero":false}},"y":{"datum":2.148,"type":"quantitative","scale":{"domain":[2.05,2.5],"nice":false,"zero":false}}}},
{"data":{"values":[{}]},"mark":{"type":"text","text":"r","align":"left","baseline":"alphabetic","fontSize":18,"fontStyle":"italic","color":"#d9262e"},"encoding":{"x":{"datum":35.94,"type":"quantitative","scale":{"domain":[18,90],"nice":false,"zero":false}},"y":{"datum":2.148,"type":"quantitative","scale":{"domain":[2.05,2.5],"nice":false,"zero":false}}}},
{"data":{"values":[{}]},"mark":{"type":"text","text":"p","align":"left","baseline":"alphabetic","fontSize":12,"fontStyle":"italic","color":"#d9262e"},"encoding":{"x":{"datum":37.32,"type":"quantitative","scale":{"domain":[18,90],"nice":false,"zero":false}},"y":{"datum":2.136,"type":"quantitative","scale":{"domain":[2.05,2.5],"nice":false,"zero":false}}}},
{"data":{"values":[{}]},"mark":{"type":"text","text":"= –.740","align":"left","baseline":"alphabetic","fontSize":18,"color":"#d9262e"},"encoding":{"x":{"datum":40.01,"type":"quantitative","scale":{"domain":[18,90],"nice":false,"zero":false}},"y":{"datum":2.148,"type":"quantitative","scale":{"domain":[2.05,2.5],"nice":false,"zero":false}}}},
{"data":{"values":[{}]},"mark":{"type":"text","text":"–0.0104","align":"left","baseline":"alphabetic","fontSize":18,"color":"#d9262e"},"encoding":{"x":{"datum":20.76,"type":"quantitative","scale":{"domain":[18,90],"nice":false,"zero":false}},"y":{"datum":2.074,"type":"quantitative","scale":{"domain":[2.05,2.5],"nice":false,"zero":false}}}},
{"data":{"values":[{}]},"mark":{"type":"text","text":"FD","align":"left","baseline":"alphabetic","fontSize":18,"fontStyle":"italic","color":"#d9262e"},"encoding":{"x":{"datum":36.89,"type":"quantitative","scale":{"domain":[18,90],"nice":false,"zero":false}},"y":{"datum":2.074,"type":"quantitative","scale":{"domain":[2.05,2.5],"nice":false,"zero":false}}}},
{"data":{"values":[{}]},"mark":{"type":"text","text":"f","align":"left","baseline":"alphabetic","fontSize":12,"fontStyle":"italic","color":"#d9262e"},"encoding":{"x":{"datum":42.64,"type":"quantitative","scale":{"domain":[18,90],"nice":false,"zero":false}},"y":{"datum":2.062,"type":"quantitative","scale":{"domain":[2.05,2.5],"nice":false,"zero":false}}}},
{"data":{"values":[{}]},"mark":{"type":"text","text":"/decade","align":"left","baseline":"alphabetic","fontSize":18,"color":"#d9262e"},"encoding":{"x":{"datum":43.56,"type":"quantitative","scale":{"domain":[18,90],"nice":false,"zero":false}},"y":{"datum":2.074,"type":"quantitative","scale":{"domain":[2.05,2.5],"nice":false,"zero":false}}}}
]},
{"width":313,"height":145,"layer":[
{"data":{"name":"pa"},"mark":{"type":"circle","size":19,"fill":"#3e8e41","stroke":"#14361a","strokeWidth":0.6,"opacity":1},"encoding":{"x":{"field":"age","type":"quantitative","scale":{"domain":[18,90],"nice":false,"zero":false},"axis":{"values":[20,30,40,50,60,70,80,90],"tickCount":20,"grid":false,"domainColor":"#444","domainWidth":1.3,"tickColor":"#444","tickSize":4,"tickWidth":1.1,"labelFontSize":15,"labelColor":"#333","labelPadding":5,"labelFlush":false,"labelOverlap":false,"title":null}},"y":{"field":"fd","type":"quantitative","scale":{"domain":[2.05,2.5],"nice":false,"zero":false},"axis":{"values":[2.05,2.15,2.25,2.35,2.45],"tickCount":20,"labels":false,"grid":false,"domainColor":"#444","domainWidth":1.3,"tickColor":"#444","tickSize":4,"tickWidth":1.1,"title":null}}}},
{"data":{"values":[{}]},"mark":{"type":"text","text":"Parietal:","align":"left","baseline":"alphabetic","fontSize":18,"color":"#55b04c"},"encoding":{"x":{"datum":20.76,"type":"quantitative","scale":{"domain":[18,90],"nice":false,"zero":false}},"y":{"datum":2.148,"type":"quantitative","scale":{"domain":[2.05,2.5],"nice":false,"zero":false}}}},
{"data":{"values":[{}]},"mark":{"type":"text","text":"r","align":"left","baseline":"alphabetic","fontSize":18,"fontStyle":"italic","color":"#55b04c"},"encoding":{"x":{"datum":37.09,"type":"quantitative","scale":{"domain":[18,90],"nice":false,"zero":false}},"y":{"datum":2.148,"type":"quantitative","scale":{"domain":[2.05,2.5],"nice":false,"zero":false}}}},
{"data":{"values":[{}]},"mark":{"type":"text","text":"p","align":"left","baseline":"alphabetic","fontSize":12,"fontStyle":"italic","color":"#55b04c"},"encoding":{"x":{"datum":38.47,"type":"quantitative","scale":{"domain":[18,90],"nice":false,"zero":false}},"y":{"datum":2.136,"type":"quantitative","scale":{"domain":[2.05,2.5],"nice":false,"zero":false}}}},
{"data":{"values":[{}]},"mark":{"type":"text","text":"= –.671","align":"left","baseline":"alphabetic","fontSize":18,"color":"#55b04c"},"encoding":{"x":{"datum":41.16,"type":"quantitative","scale":{"domain":[18,90],"nice":false,"zero":false}},"y":{"datum":2.148,"type":"quantitative","scale":{"domain":[2.05,2.5],"nice":false,"zero":false}}}},
{"data":{"values":[{}]},"mark":{"type":"text","text":"–0.0099","align":"left","baseline":"alphabetic","fontSize":18,"color":"#55b04c"},"encoding":{"x":{"datum":20.76,"type":"quantitative","scale":{"domain":[18,90],"nice":false,"zero":false}},"y":{"datum":2.074,"type":"quantitative","scale":{"domain":[2.05,2.5],"nice":false,"zero":false}}}},
{"data":{"values":[{}]},"mark":{"type":"text","text":"FD","align":"left","baseline":"alphabetic","fontSize":18,"fontStyle":"italic","color":"#55b04c"},"encoding":{"x":{"datum":36.89,"type":"quantitative","scale":{"domain":[18,90],"nice":false,"zero":false}},"y":{"datum":2.074,"type":"quantitative","scale":{"domain":[2.05,2.5],"nice":false,"zero":false}}}},
{"data":{"values":[{}]},"mark":{"type":"text","text":"f","align":"left","baseline":"alphabetic","fontSize":12,"fontStyle":"italic","color":"#55b04c"},"encoding":{"x":{"datum":42.64,"type":"quantitative","scale":{"domain":[18,90],"nice":false,"zero":false}},"y":{"datum":2.062,"type":"quantitative","scale":{"domain":[2.05,2.5],"nice":false,"zero":false}}}},
{"data":{"values":[{}]},"mark":{"type":"text","text":"/decade","align":"left","baseline":"alphabetic","fontSize":18,"color":"#55b04c"},"encoding":{"x":{"datum":43.56,"type":"quantitative","scale":{"domain":[18,90],"nice":false,"zero":false}},"y":{"datum":2.074,"type":"quantitative","scale":{"domain":[2.05,2.5],"nice":false,"zero":false}}}}
]}
]},
{"spacing":4,"hconcat":[
{"width":313,"height":145,"layer":[
{"data":{"name":"te"},"mark":{"type":"circle","size":19,"fill":"#3a5f95","stroke":"#101e33","strokeWidth":0.6,"opacity":1},"encoding":{"x":{"field":"age","type":"quantitative","scale":{"domain":[18,90],"nice":false,"zero":false},"axis":{"values":[20,30,40,50,60,70,80,90],"tickCount":20,"grid":false,"domainColor":"#444","domainWidth":1.3,"tickColor":"#444","tickSize":4,"tickWidth":1.1,"labelFontSize":15,"labelColor":"#333","labelPadding":5,"labelFlush":false,"labelOverlap":false,"title":"Age (years)","titleFontSize":16,"titleFontWeight":"bold","titleColor":"#222","titlePadding":4}},"y":{"field":"fd","type":"quantitative","scale":{"domain":[2.05,2.5],"nice":false,"zero":false},"axis":{"values":[2.05,2.15,2.25,2.35,2.45],"tickCount":20,"format":".2f","grid":false,"domainColor":"#444","domainWidth":1.3,"tickColor":"#444","tickSize":4,"tickWidth":1.1,"labelFontSize":15,"labelColor":"#333","labelPadding":4,"labelFlush":false,"labelOverlap":false,"title":null}}}},
{"data":{"values":[{}]},"mark":{"type":"text","text":"FD","align":"center","baseline":"alphabetic","angle":270,"fontSize":17,"fontWeight":"bold","fontStyle":"italic","color":"#111"},"encoding":{"x":{"datum":6.5,"type":"quantitative","scale":{"domain":[18,90],"nice":false,"zero":false}},"y":{"datum":2.252,"type":"quantitative","scale":{"domain":[2.05,2.5],"nice":false,"zero":false}}}},
{"data":{"values":[{}]},"mark":{"type":"text","text":"f","align":"left","baseline":"alphabetic","angle":270,"fontSize":11,"fontWeight":"bold","fontStyle":"italic","color":"#111"},"encoding":{"x":{"datum":7.42,"type":"quantitative","scale":{"domain":[18,90],"nice":false,"zero":false}},"y":{"datum":2.29,"type":"quantitative","scale":{"domain":[2.05,2.5],"nice":false,"zero":false}}}},
{"data":{"values":[{}]},"mark":{"type":"text","text":"Temporal:","align":"left","baseline":"alphabetic","fontSize":18,"color":"#3c8dc4"},"encoding":{"x":{"datum":20.76,"type":"quantitative","scale":{"domain":[18,90],"nice":false,"zero":false}},"y":{"datum":2.148,"type":"quantitative","scale":{"domain":[2.05,2.5],"nice":false,"zero":false}}}},
{"data":{"values":[{}]},"mark":{"type":"text","text":"r","align":"left","baseline":"alphabetic","fontSize":18,"fontStyle":"italic","color":"#3c8dc4"},"encoding":{"x":{"datum":40.54,"type":"quantitative","scale":{"domain":[18,90],"nice":false,"zero":false}},"y":{"datum":2.148,"type":"quantitative","scale":{"domain":[2.05,2.5],"nice":false,"zero":false}}}},
{"data":{"values":[{}]},"mark":{"type":"text","text":"p","align":"left","baseline":"alphabetic","fontSize":12,"fontStyle":"italic","color":"#3c8dc4"},"encoding":{"x":{"datum":41.92,"type":"quantitative","scale":{"domain":[18,90],"nice":false,"zero":false}},"y":{"datum":2.136,"type":"quantitative","scale":{"domain":[2.05,2.5],"nice":false,"zero":false}}}},
{"data":{"values":[{}]},"mark":{"type":"text","text":"= –.635","align":"left","baseline":"alphabetic","fontSize":18,"color":"#3c8dc4"},"encoding":{"x":{"datum":44.61,"type":"quantitative","scale":{"domain":[18,90],"nice":false,"zero":false}},"y":{"datum":2.148,"type":"quantitative","scale":{"domain":[2.05,2.5],"nice":false,"zero":false}}}},
{"data":{"values":[{}]},"mark":{"type":"text","text":"–0.0073","align":"left","baseline":"alphabetic","fontSize":18,"color":"#3c8dc4"},"encoding":{"x":{"datum":20.76,"type":"quantitative","scale":{"domain":[18,90],"nice":false,"zero":false}},"y":{"datum":2.074,"type":"quantitative","scale":{"domain":[2.05,2.5],"nice":false,"zero":false}}}},
{"data":{"values":[{}]},"mark":{"type":"text","text":"FD","align":"left","baseline":"alphabetic","fontSize":18,"fontStyle":"italic","color":"#3c8dc4"},"encoding":{"x":{"datum":36.89,"type":"quantitative","scale":{"domain":[18,90],"nice":false,"zero":false}},"y":{"datum":2.074,"type":"quantitative","scale":{"domain":[2.05,2.5],"nice":false,"zero":false}}}},
{"data":{"values":[{}]},"mark":{"type":"text","text":"f","align":"left","baseline":"alphabetic","fontSize":12,"fontStyle":"italic","color":"#3c8dc4"},"encoding":{"x":{"datum":42.64,"type":"quantitative","scale":{"domain":[18,90],"nice":false,"zero":false}},"y":{"datum":2.062,"type":"quantitative","scale":{"domain":[2.05,2.5],"nice":false,"zero":false}}}},
{"data":{"values":[{}]},"mark":{"type":"text","text":"/decade","align":"left","baseline":"alphabetic","fontSize":18,"color":"#3c8dc4"},"encoding":{"x":{"datum":43.56,"type":"quantitative","scale":{"domain":[18,90],"nice":false,"zero":false}},"y":{"datum":2.074,"type":"quantitative","scale":{"domain":[2.05,2.5],"nice":false,"zero":false}}}}
]},
{"width":313,"height":145,"layer":[
{"data":{"name":"oc"},"mark":{"type":"circle","size":19,"fill":"#e07b2e","stroke":"#4a2410","strokeWidth":0.6,"opacity":1},"encoding":{"x":{"field":"age","type":"quantitative","scale":{"domain":[18,90],"nice":false,"zero":false},"axis":{"values":[20,30,40,50,60,70,80,90],"tickCount":20,"grid":false,"domainColor":"#444","domainWidth":1.3,"tickColor":"#444","tickSize":4,"tickWidth":1.1,"labelFontSize":15,"labelColor":"#333","labelPadding":5,"labelFlush":false,"labelOverlap":false,"title":"Age (years)","titleFontSize":16,"titleFontWeight":"bold","titleColor":"#222","titlePadding":4}},"y":{"field":"fd","type":"quantitative","scale":{"domain":[2.05,2.5],"nice":false,"zero":false},"axis":{"values":[2.05,2.15,2.25,2.35,2.45],"tickCount":20,"labels":false,"grid":false,"domainColor":"#444","domainWidth":1.3,"tickColor":"#444","tickSize":4,"tickWidth":1.1,"title":null}}}},
{"data":{"values":[{}]},"mark":{"type":"text","text":"Occipital:","align":"left","baseline":"alphabetic","fontSize":18,"color":"#f39a2a"},"encoding":{"x":{"datum":20.76,"type":"quantitative","scale":{"domain":[18,90],"nice":false,"zero":false}},"y":{"datum":2.148,"type":"quantitative","scale":{"domain":[2.05,2.5],"nice":false,"zero":false}}}},
{"data":{"values":[{}]},"mark":{"type":"text","text":"r","align":"left","baseline":"alphabetic","fontSize":18,"fontStyle":"italic","color":"#f39a2a"},"encoding":{"x":{"datum":38.86,"type":"quantitative","scale":{"domain":[18,90],"nice":false,"zero":false}},"y":{"datum":2.148,"type":"quantitative","scale":{"domain":[2.05,2.5],"nice":false,"zero":false}}}},
{"data":{"values":[{}]},"mark":{"type":"text","text":"p","align":"left","baseline":"alphabetic","fontSize":12,"fontStyle":"italic","color":"#f39a2a"},"encoding":{"x":{"datum":40.24,"type":"quantitative","scale":{"domain":[18,90],"nice":false,"zero":false}},"y":{"datum":2.136,"type":"quantitative","scale":{"domain":[2.05,2.5],"nice":false,"zero":false}}}},
{"data":{"values":[{}]},"mark":{"type":"text","text":"= –.555","align":"left","baseline":"alphabetic","fontSize":18,"color":"#f39a2a"},"encoding":{"x":{"datum":42.94,"type":"quantitative","scale":{"domain":[18,90],"nice":false,"zero":false}},"y":{"datum":2.148,"type":"quantitative","scale":{"domain":[2.05,2.5],"nice":false,"zero":false}}}},
{"data":{"values":[{}]},"mark":{"type":"text","text":"–0.0082","align":"left","baseline":"alphabetic","fontSize":18,"color":"#f39a2a"},"encoding":{"x":{"datum":20.76,"type":"quantitative","scale":{"domain":[18,90],"nice":false,"zero":false}},"y":{"datum":2.074,"type":"quantitative","scale":{"domain":[2.05,2.5],"nice":false,"zero":false}}}},
{"data":{"values":[{}]},"mark":{"type":"text","text":"FD","align":"left","baseline":"alphabetic","fontSize":18,"fontStyle":"italic","color":"#f39a2a"},"encoding":{"x":{"datum":36.89,"type":"quantitative","scale":{"domain":[18,90],"nice":false,"zero":false}},"y":{"datum":2.074,"type":"quantitative","scale":{"domain":[2.05,2.5],"nice":false,"zero":false}}}},
{"data":{"values":[{}]},"mark":{"type":"text","text":"f","align":"left","baseline":"alphabetic","fontSize":12,"fontStyle":"italic","color":"#f39a2a"},"encoding":{"x":{"datum":42.64,"type":"quantitative","scale":{"domain":[18,90],"nice":false,"zero":false}},"y":{"datum":2.062,"type":"quantitative","scale":{"domain":[2.05,2.5],"nice":false,"zero":false}}}},
{"data":{"values":[{}]},"mark":{"type":"text","text":"/decade","align":"left","baseline":"alphabetic","fontSize":18,"color":"#f39a2a"},"encoding":{"x":{"datum":43.56,"type":"quantitative","scale":{"domain":[18,90],"nice":false,"zero":false}},"y":{"datum":2.074,"type":"quantitative","scale":{"domain":[2.05,2.5],"nice":false,"zero":false}}}}
]}
]}
]}
]
}
